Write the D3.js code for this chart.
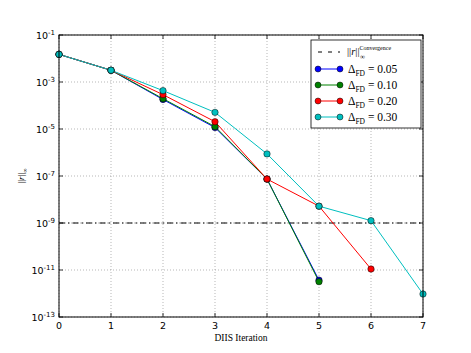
<!DOCTYPE html>
<html><head><meta charset="utf-8">
<script src="https://cdn.jsdelivr.net/npm/d3@7"></script>
<style>body{margin:0;background:#fff}svg{display:block}</style>
</head><body>
<svg id="c" width="471" height="353"></svg>
<script>
const iterations = [0,1,2,3,4,5,6,7];
const xTicks = [0,1,2,3,4,5,6,7];
const yTickExps = [-1,-3,-5,-7,-9,-11,-13];
const convergence = 1e-9;
const seriesNames = ["0.05","0.10","0.20","0.30"];
const seriesColors = ["#0000ff","#008000","#ff0000","#00bfbf"];
const s005 = [1.5e-2, 3.16e-3, 1.8e-4, 1.15e-5, 7.4e-8, 3.7e-12];
const s010 = [1.5e-2, 3.16e-3, 1.95e-4, 1.26e-5, 7.4e-8, 3.2e-12];
const s020 = [1.5e-2, 3.16e-3, 2.9e-4, 2.04e-5, 7.4e-8, 5.2e-9, 1.1e-11];
const s030 = [1.5e-2, 3.16e-3, 4.3e-4, 5.1e-5, 8.7e-7, 5.2e-9, 1.26e-9, 9.5e-13];
const series = [s005, s010, s020, s030];

const svg = d3.select("#c");
const L = 59, R = 423, T = 35, B = 317;
const x = d3.scaleLinear().domain([0,7]).range([L,R]);
const y = d3.scaleLog().domain([1e-13,1e-1]).range([B,T]);

// grid
const g = svg.append("g");
xTicks.forEach(t => g.append("line").attr("x1",x(t)).attr("x2",x(t)).attr("y1",T).attr("y2",B)
  .attr("stroke","#888").attr("stroke-width",0.6).attr("stroke-dasharray","1,2"));
yTickExps.forEach(e => g.append("line").attr("x1",L).attr("x2",R).attr("y1",y(Math.pow(10,e))).attr("y2",y(Math.pow(10,e)))
  .attr("stroke","#888").attr("stroke-width",0.6).attr("stroke-dasharray","1,2"));

// convergence line
svg.append("line").attr("x1",L).attr("x2",R).attr("y1",y(convergence)).attr("y2",y(convergence))
  .attr("stroke","#000").attr("stroke-width",1).attr("stroke-dasharray","6,3,1.5,3");

// series
const line = d3.line().x((d,i)=>x(iterations[i])).y(d=>y(d));
series.forEach((s,k) => {
  svg.append("path").datum(s).attr("d",line).attr("fill","none")
    .attr("stroke",seriesColors[k]).attr("stroke-width",1);
});
series.forEach((s,k) => {
  svg.selectAll(null).data(s).enter().append("circle")
    .attr("cx",(d,i)=>x(iterations[i])).attr("cy",d=>y(d)).attr("r",3.2)
    .attr("fill",seriesColors[k]).attr("stroke","#000").attr("stroke-width",0.5);
});

// axes frame
svg.append("rect").attr("x",L).attr("y",T).attr("width",R-L).attr("height",B-T)
  .attr("fill","none").attr("stroke","#000").attr("stroke-width",1);

// ticks inward
const tk = svg.append("g").attr("stroke","#000").attr("stroke-width",0.8);
xTicks.forEach(t => {
  tk.append("line").attr("x1",x(t)).attr("x2",x(t)).attr("y1",B).attr("y2",B-4);
  tk.append("line").attr("x1",x(t)).attr("x2",x(t)).attr("y1",T).attr("y2",T+4);
});
yTickExps.forEach(e => {
  const yy = y(Math.pow(10,e));
  tk.append("line").attr("x1",L).attr("x2",L+4).attr("y1",yy).attr("y2",yy);
  tk.append("line").attr("x1",R).attr("x2",R-4).attr("y1",yy).attr("y2",yy);
});

// tick labels
const font = "DejaVu Sans";
xTicks.forEach(t => svg.append("text").attr("x",x(t)).attr("y",B+12).attr("text-anchor","middle")
  .attr("font-family",font).attr("font-size",9.5).text(t));
yTickExps.forEach(e => {
  const tx = svg.append("text").attr("x",L-4).attr("y",y(Math.pow(10,e))+4).attr("text-anchor","end")
    .attr("font-family",font).attr("font-size",9.5);
  tx.append("tspan").text("10");
  tx.append("tspan").attr("dy",-4).attr("font-size",7).text(String(e));
});

// axis labels
const serif = "Liberation Serif";
svg.append("text").attr("x",241).attr("y",341).attr("text-anchor","middle")
  .attr("font-family",serif).attr("font-size",9.5).text("DIIS Iteration");
const yl = svg.append("text").attr("transform","translate(24,176) rotate(-90)").attr("text-anchor","middle")
  .attr("font-family",serif).attr("font-size",9);
yl.append("tspan").text("||");
yl.append("tspan").attr("font-style","italic").text("r");
yl.append("tspan").text("||");
yl.append("tspan").attr("dy",3).attr("font-size",6).text("∞");

// legend
const lg = svg.append("g");
lg.append("rect").attr("x",311).attr("y",40).attr("width",110).attr("height",88)
  .attr("fill","#fff").attr("stroke","#000").attr("stroke-width",0.8);
lg.append("line").attr("x1",318).attr("x2",340).attr("y1",52).attr("y2",52)
  .attr("stroke","#000").attr("stroke-width",1).attr("stroke-dasharray","4,6");
const t0 = lg.append("text").attr("x",347).attr("y",55).attr("font-family",serif).attr("font-size",10.5);
t0.append("tspan").text("||");
t0.append("tspan").attr("font-style","italic").text("r");
t0.append("tspan").text("||");
t0.append("tspan").attr("dy",-5).attr("font-size",6).text("Convergence");
t0.append("tspan").attr("x",360).attr("dy",9).attr("font-size",7).text("∞");
seriesNames.forEach((n,k) => {
  const yy = 69 + k*16;
  lg.append("line").attr("x1",318).attr("x2",340).attr("y1",yy).attr("y2",yy)
    .attr("stroke",seriesColors[k]).attr("stroke-width",1);
  [318,340].forEach(cx => lg.append("circle").attr("cx",cx).attr("cy",yy).attr("r",3)
    .attr("fill",seriesColors[k]).attr("stroke","#000").attr("stroke-width",0.5));
  const t = lg.append("text").attr("x",348).attr("y",yy+4).attr("font-family",serif).attr("font-size",11.5);
  t.append("tspan").text("Δ");
  t.append("tspan").attr("dy",3).attr("font-size",7.5).text("FD");
  t.append("tspan").attr("dy",-3).text(" = " + n);
});
</script>
</body></html>
